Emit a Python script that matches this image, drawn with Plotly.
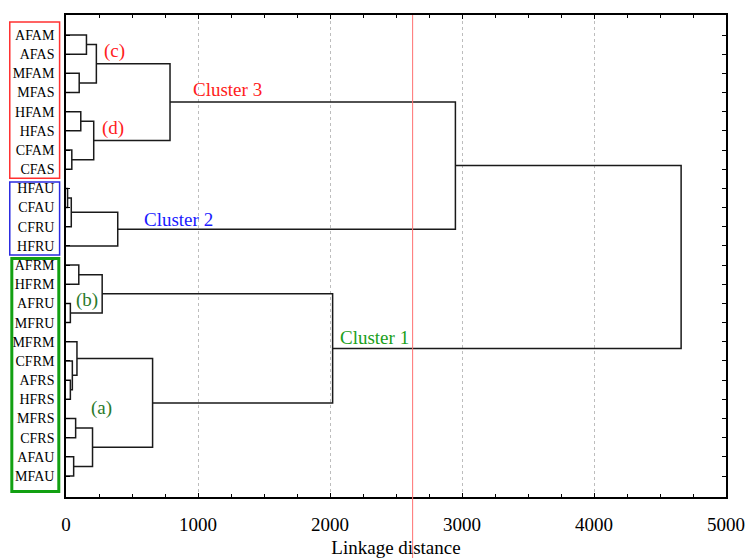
import plotly.graph_objects as go

# ---- data ----
leaves = ["AFAM", "AFAS", "MFAM", "MFAS", "HFAM", "HFAS", "CFAM", "CFAS",
          "HFAU", "CFAU", "CFRU", "HFRU",
          "AFRM", "HFRM", "AFRU", "MFRU", "MFRM", "CFRM", "AFRS", "HFRS",
          "MFRS", "CFRS", "AFAU", "MFAU"]

# merges: (left node, right node, linkage distance); new nodes numbered from len(leaves)
merge_left = [0, 2, 24, 4, 6, 27, 26, 8, 31, 32, 30, 12, 14, 35, 18, 17, 16, 20, 22, 41, 40, 37, 34]
merge_right = [1, 3, 25, 5, 7, 28, 29, 9, 10, 11, 33, 13, 15, 36, 19, 38, 39, 21, 23, 42, 43, 44, 45]
merge_height = [155, 100, 230, 112, 44, 210, 788, 12, 40, 392, 2950, 97, 33, 274, 33, 48, 83,
                73, 58, 201, 656, 2020, 4660]

cut_distance = 2626
x_ticks = [0, 1000, 2000, 3000, 4000, 5000]

# ---- build dendrogram path ----
n = len(leaves)
node_y = {i: float(i) for i in range(n)}
node_h = {i: 0.0 for i in range(n)}
xs, ys = [], []
for k, (a, b, h) in enumerate(zip(merge_left, merge_right, merge_height)):
    ya, yb = node_y[a], node_y[b]
    xs += [node_h[a], h, h, node_h[b], None]
    ys += [ya, ya, yb, yb, None]
    node_y[n + k] = (ya + yb) / 2
    node_h[n + k] = h

serif = "Liberation Serif, Times New Roman, serif"

fig = go.Figure()
fig.add_trace(go.Scatter(x=xs, y=ys, mode="lines",
                         line=dict(color="#1a1a1a", width=1.5),
                         hoverinfo="skip", showlegend=False))

fig.update_layout(
    width=745, height=558,
    margin=dict(l=66, r=19, t=15, b=61),
    paper_bgcolor="white", plot_bgcolor="white",
    font=dict(family=serif, color="black"),
    showlegend=False,
)

fig.update_xaxes(
    range=[0, 5000], tickvals=x_ticks, ticktext=[str(v) for v in x_ticks],
    automargin=False,
    showgrid=True, gridcolor="#bdbdbd", griddash="dot", gridwidth=1,
    zeroline=False,
    showline=True, linecolor="black", linewidth=1.5, mirror="allticks",
    ticks="inside", ticklen=4, tickcolor="black", tickwidth=1,
    minor=dict(dtick=250, ticks="inside", ticklen=3, tickcolor="black", showgrid=False),
    tickfont=dict(family=serif, size=19, color="black"),
    ticklabelstandoff=9,
    title=dict(text="Linkage distance", font=dict(family=serif, size=19, color="black"), standoff=10),
)
fig.update_yaxes(
    range=[24.095, -1.043], tickvals=list(range(n)), ticktext=leaves,
    automargin=False,
    showgrid=False, zeroline=False,
    showline=True, linecolor="black", linewidth=1.5, mirror="allticks",
    ticks="inside", ticklen=4, tickcolor="black", tickwidth=1,
    tickfont=dict(family=serif, size=14, color="black"),
    ticklabelstandoff=7,
)

# cut line
fig.add_shape(type="line", xref="x", yref="paper", x0=cut_distance, x1=cut_distance,
              y0=-0.2, y1=1, line=dict(color="#ff7070", width=1))

# cluster boxes around leaf labels
fig.add_shape(type="rect", xref="paper", yref="y", x0=-0.0852, x1=-0.0097, y0=-0.68, y1=7.475,
              line=dict(color="#ff3030", width=1.5))
fig.add_shape(type="rect", xref="paper", yref="y", x0=-0.0852, x1=-0.0097, y0=7.67, y1=11.48,
              line=dict(color="#2a2ae0", width=1.5))
fig.add_shape(type="rect", xref="paper", yref="y", x0=-0.0821, x1=-0.0109, y0=11.66, y1=23.81,
              line=dict(color="#12a012", width=3))

def label(text, x, y, color):
    fig.add_annotation(x=x, y=y, text=text, showarrow=False, xanchor="center", yanchor="middle",
                       font=dict(family=serif, size=19, color=color))

label("(c)", 366, 0.83, "#ff2020")
label("(d)", 358, 4.85, "#ff2020")
label("Cluster 3", 1226, 2.82, "#ff2020")
label("Cluster 2", 851, 9.6, "#1a1aff")
label("Cluster 1", 2336, 15.8, "#1aa01a")
label("(b)", 161, 13.82, "#2a7a2a")
label("(a)", 267, 19.46, "#2a7a2a")

fig.write_html("out.html")
